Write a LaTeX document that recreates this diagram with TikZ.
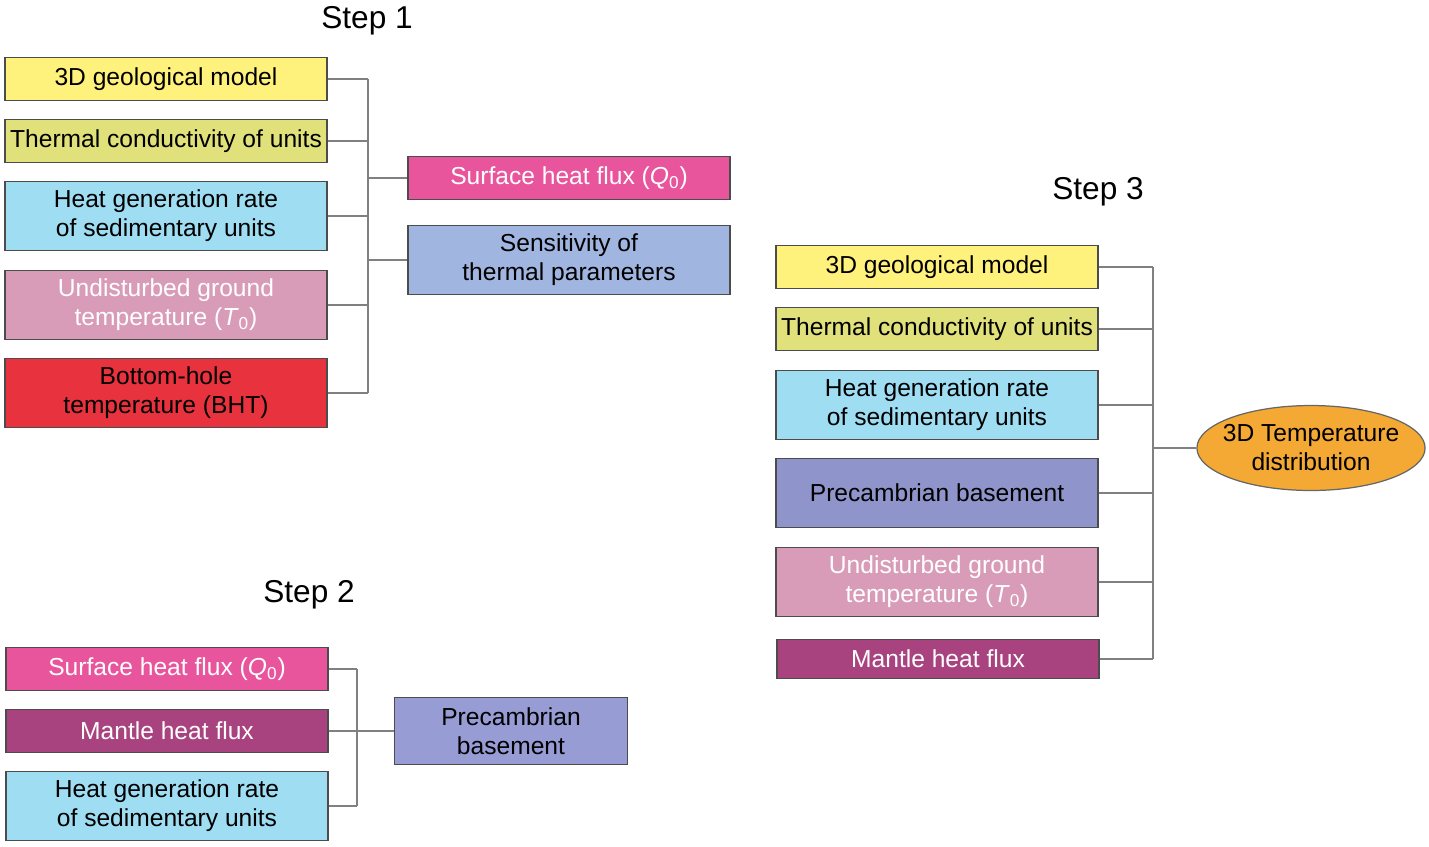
\documentclass[tikz,border=0pt]{standalone}
\usepackage{fontspec}
\setmainfont{Liberation Sans}
\usetikzlibrary{shapes.geometric}

\definecolor{geoyellow}{HTML}{FFF27C}
\definecolor{condgreen}{HTML}{E0E17B}
\definecolor{heatblue}{HTML}{9FDDF2}
\definecolor{groundpink}{HTML}{D89CB9}
\definecolor{bhtred}{HTML}{E8323E}
\definecolor{fluxpink}{HTML}{E8559C}
\definecolor{sensblue}{HTML}{A0B6E0}
\definecolor{basepurple}{HTML}{979CD5}
\definecolor{mantleplum}{HTML}{A8437F}
\definecolor{temporange}{HTML}{F4A934}

\newcommand{\Qnull}{(\textit{Q}\textsubscript{0})}
\newcommand{\Tnull}{(\textit{T}\textsubscript{0})}

\begin{document}
\begin{tikzpicture}[x=0.02cm, y=-0.02cm,
  every node/.style={font=\fontsize{14}{16.5}\selectfont, align=center, inner sep=2pt},
  box/.style={draw=black!70, line width=0.7pt, minimum width=6.44cm, minimum height=0.86cm},
  tallbox/.style={box, minimum height=1.38cm},
  steplabel/.style={font=\fontsize{18}{20}\selectfont},
  link/.style={draw=black!50, line width=1pt}]

\useasboundingbox (0,0) rectangle (1429,846);

%% Step 1
\node[steplabel] (st1) at (367,21) {Step 1};
\node[box, fill=geoyellow] (a1) at (166,79) {3D geological model};
\node[box, fill=condgreen] (a2) at (166,141) {Thermal conductivity of units};
\node[tallbox, fill=heatblue] (a3) at (166,216) {Heat generation rate\\of sedimentary units};
\node[tallbox, fill=groundpink, text=white] (a4) at (166,305) {Undisturbed ground\\temperature \Tnull};
\node[tallbox, fill=bhtred] (a5) at (166,393) {Bottom-hole\\temperature (BHT)};

\node[box, fill=fluxpink, text=white] (o1) at (569,178) {Surface heat flux \Qnull};
\node[tallbox, fill=sensblue] (o2) at (569,260) {Sensitivity of\\thermal parameters};

\coordinate (s1) at (368,0);
\foreach \n in {a1,a2,a3,a4,a5}
  \draw[link] (\n.east) -- (\n.east -| s1);
\draw[link] (a1.east -| s1) -- (a5.east -| s1);
\draw[link] (o1.west -| s1) -- (o1.west);
\draw[link] (o2.west -| s1) -- (o2.west);

%% Step 2
\node[steplabel] (st2) at (309,595) {Step 2};
\node[box, fill=fluxpink, text=white] (b1) at (167,669) {Surface heat flux \Qnull};
\node[box, fill=mantleplum, text=white] (b2) at (167,731) {Mantle heat flux};
\node[tallbox, fill=heatblue] (b3) at (167,806) {Heat generation rate\\of sedimentary units};
\node[box, minimum width=4.66cm, minimum height=1.34cm, fill=basepurple] (p2) at (511,731) {Precambrian\\basement};

\coordinate (s2) at (357,0);
\draw[link] (b1.east) -- (b1.east -| s2);
\draw[link] (b3.east) -- (b3.east -| s2);
\draw[link] (b1.east -| s2) -- (b3.east -| s2);
\draw[link] (b2.east) -- (p2.west);

%% Step 3
\node[steplabel] (st3) at (1098,192) {Step 3};
\node[box, fill=geoyellow] (c1) at (937,267) {3D geological model};
\node[box, fill=condgreen] (c2) at (937,329) {Thermal conductivity of units};
\node[tallbox, fill=heatblue] (c3) at (937,405) {Heat generation rate\\of sedimentary units};
\node[tallbox, fill=basepurple!95!black] (c4) at (937,493) {Precambrian basement};
\node[tallbox, fill=groundpink, text=white] (c5) at (937,582) {Undisturbed ground\\temperature \Tnull};
\node[box, minimum height=0.78cm, fill=mantleplum, text=white] (c6) at (938,659) {Mantle heat flux};

\node[ellipse, draw=black!60, line width=0.7pt, fill=temporange, inner xsep=-0.15cm, inner ysep=0pt, minimum height=1.7cm] (t3) at (1311,448) {3D Temperature\\distribution};

\coordinate (s3) at (1153,0);
\foreach \n in {c1,c2,c3,c4,c5,c6}
  \draw[link] (\n.east) -- (\n.east -| s3);
\draw[link] (c1.east -| s3) -- (c6.east -| s3);
\draw[link] (t3.west -| s3) -- (t3.west);

\end{tikzpicture}
\end{document}
